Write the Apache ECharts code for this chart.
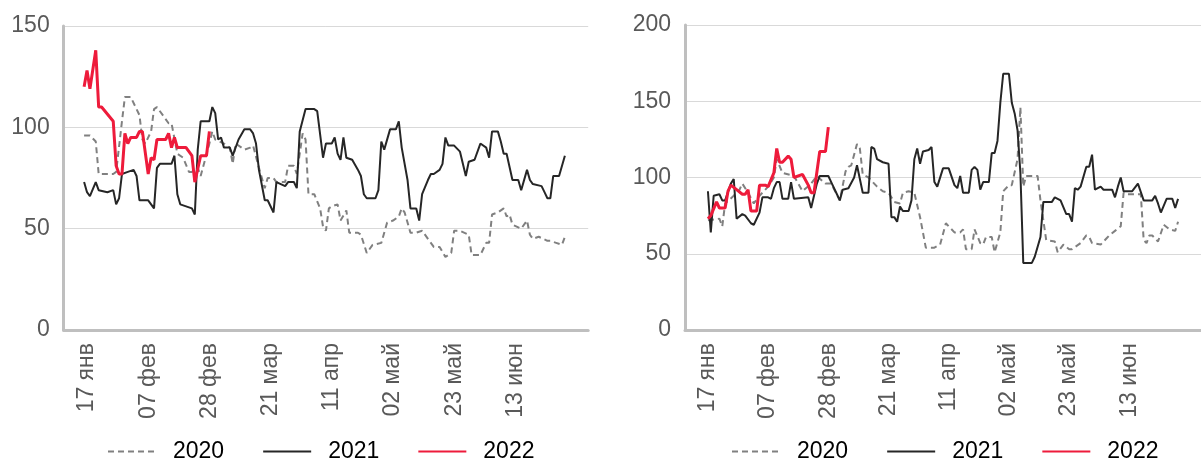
<!DOCTYPE html>
<html><head><meta charset="utf-8">
<script src="https://cdn.jsdelivr.net/npm/echarts@6/dist/echarts.min.js"></script>
<style>html,body{margin:0;padding:0;background:#fff}#c{width:1201px;height:464px}</style>
</head><body><div id="c"></div>
<script>
// Daily categories 09 Jan .. 08 Jul; data points are [dayIndex, value] (index 0 = 09 Jan)
const monthNames = ['янв','фев','мар','апр','май','июн','июл','авг'];
const dayCount = 181;
const tickLabels = ['17 янв','07 фев','28 фев','21 мар','11 апр','02 май','23 май','13 июн'];
const seriesNames = ['2020','2021','2022'];

const left2020 = [[7,96],[9,96],[11,93],[12,77],[13,77],[17,77],[18,78],[20,103],[21,115],[23,115],[25,109],[26,106],[27,94],[28,92],[30,98],[31,109],[32,110],[34,106],[36,102],[37,102],[39,87],[41,85],[43,78],[44,78],[46,80],[47,76],[50,92],[51,98],[52,94],[55,92],[57,90],[58,82],[59,92],[62,89],[64,90],[65,91],[67,80],[69,70],[70,75],[72,75],[73,73],[76,73],[77,81],[79,81],[80,77],[82,97],[83,94],[84,67],[86,67],[88,60],[89,51],[90,49],[91,60],[92,61],[94,62],[95,54],[97,59],[98,48],[101,48],[102,47],[104,38],[106,42],[109,43],[111,53],[113,54],[115,56],[116,60],[117,58],[119,48],[121,48],[123,49],[126,43],[127,41],[129,41],[131,36],[133,38],[134,49],[136,49],[139,47],[140,37],[143,37],[145,43],[146,43],[147,57],[149,58],[151,60],[152,56],[153,57],[154,52],[157,50],[159,54],[160,47],[161,45],[163,46],[166,44],[167,44],[169,43],[171,42],[172,46]];
const left2021 = [[7,73],[8,68],[9,66],[11,73],[12,69],[15,68],[17,69],[18,62],[19,65],[20,77],[22,78],[24,79],[25,76],[26,64],[29,64],[31,60],[32,80],[33,82],[37,82],[38,86],[39,67],[40,62],[44,60],[45,57],[46,89],[47,103],[50,103],[51,110],[52,107],[53,94],[54,95],[55,90],[57,90],[58,86],[60,94],[62,99],[64,99],[65,97],[66,92],[67,79],[69,64],[70,64],[72,58],[73,73],[76,71],[77,73],[79,73],[80,70],[81,98],[83,109],[86,109],[87,108],[89,85],[90,92],[92,92],[93,95],[94,87],[95,84],[96,95],[97,85],[99,84],[101,79],[102,76],[103,67],[104,65],[107,65],[108,69],[109,93],[110,89],[112,99],[114,99],[115,103],[116,90],[118,74],[119,60],[121,60],[122,54],[123,67],[125,74],[126,77],[127,77],[129,79],[130,82],[131,95],[132,91],[134,91],[136,88],[138,76],[139,83],[141,84],[143,92],[145,90],[146,85],[147,98],[149,98],[150,93],[151,87],[152,87],[154,74],[156,74],[157,69],[159,79],[160,74],[161,72],[164,71],[165,68],[166,65],[167,65],[168,76],[170,76],[172,86]];
const left2022 = [[7,120],[8,128],[9,119],[11,138],[12,110],[13,110],[17,103],[18,81],[19,77],[20,77],[21,97],[22,92],[23,95],[25,95],[26,98],[27,98],[29,77],[30,85],[31,84],[32,94],[35,94],[36,97],[37,90],[38,95],[39,90],[42,90],[44,86],[45,73],[47,86],[49,86],[50,98]];

const right2020 = [[8,72],[12,73],[13,68],[14,83],[17,88],[19,92],[20,96],[22,90],[24,83],[26,88],[29,94],[31,100],[32,112],[34,103],[38,101],[41,91],[44,96],[46,101],[49,96],[51,96],[54,85],[56,104],[57,107],[58,108],[60,122],[61,119],[62,102],[64,100],[67,94],[69,91],[71,90],[73,84],[75,83],[76,90],[78,91],[80,90],[82,74],[84,54],[87,54],[89,56],[91,70],[92,68],[94,64],[96,64],[97,66],[98,53],[100,53],[101,66],[103,57],[104,56],[105,61],[107,61],[108,51],[110,64],[111,91],[113,95],[114,95],[116,112],[117,146],[118,94],[119,101],[123,101],[124,85],[126,59],[129,58],[130,51],[132,56],[134,53],[135,53],[138,57],[140,62],[141,61],[142,57],[145,56],[147,60],[148,62],[150,65],[152,68],[153,90],[154,89],[159,89],[160,59],[161,57],[162,62],[163,62],[165,58],[167,69],[169,66],[171,65],[172,71]];
const right2021 = [[8,91],[9,64],[10,88],[12,89],[13,85],[14,85],[16,96],[17,99],[18,73],[20,76],[21,75],[23,70],[24,69],[26,77],[27,87],[29,87],[30,86],[31,93],[32,97],[33,97],[34,86],[36,86],[37,97],[38,86],[43,87],[44,80],[46,96],[47,101],[50,101],[51,97],[53,89],[54,85],[55,92],[57,93],[59,100],[60,108],[62,90],[64,90],[65,120],[66,119],[67,112],[69,110],[71,109],[72,74],[73,74],[74,71],[75,81],[76,78],[78,78],[79,85],[80,112],[81,119],[82,109],[83,117],[85,118],[86,120],[87,97],[88,94],[90,106],[92,106],[94,95],[95,93],[96,101],[97,90],[99,90],[100,105],[101,107],[102,105],[103,92],[104,97],[106,97],[107,116],[108,116],[109,124],[110,149],[111,168],[113,168],[114,149],[115,142],[116,131],[117,103],[118,44],[121,44],[122,48],[124,61],[125,84],[128,84],[129,87],[131,85],[133,76],[134,76],[135,71],[136,93],[137,92],[138,94],[140,107],[141,107],[142,115],[143,92],[145,94],[146,92],[149,92],[150,87],[151,94],[152,100],[153,91],[156,91],[158,96],[160,85],[163,85],[164,88],[165,83],[166,77],[168,86],[170,86],[171,80],[172,86]];
const right2022 = [[8,73],[9,75],[11,84],[12,80],[14,80],[15,91],[16,95],[18,92],[20,89],[21,89],[22,92],[23,78],[25,78],[26,95],[28,95],[29,94],[31,103],[32,119],[33,110],[34,110],[36,114],[37,112],[38,100],[41,102],[43,95],[44,90],[45,90],[47,117],[49,117],[50,133]];

const categories = [];
for (let i = 0; i < dayCount; i++) {
  const d = new Date(2021, 0, 9 + i);
  categories.push(String(d.getDate()).padStart(2, '0') + ' ' + monthNames[d.getMonth()]);
}

const FONT = "'Liberation Sans', Arial, sans-serif";
const labelColor = '#595959';
const styles = {
  '2020': {color: '#808080', width: 2, type: [6, 4]},
  '2021': {color: '#262626', width: 2, type: 'solid'},
  '2022': {color: '#ee1b3b', width: 3, type: 'solid'}
};

function xAxis(gi) {
  return {
    type: 'category', gridIndex: gi, data: categories, boundaryGap: false,
    axisLine: {lineStyle: {color: '#bfbfbf', width: 3}},
    axisTick: {show: false},
    splitLine: {show: false},
    axisLabel: {
      rotate: 90, margin: 13, color: labelColor, fontSize: 23, fontFamily: FONT,
      interval: (idx, val) => tickLabels.includes(val)
    }
  };
}
function yAxis(gi, max) {
  return {
    type: 'value', gridIndex: gi, min: 0, max: max, interval: 50,
    axisLine: {show: true, lineStyle: {color: '#bfbfbf', width: 3}},
    axisTick: {show: false},
    splitLine: {lineStyle: {color: '#d9d9d9', width: 1}},
    axisLabel: {margin: 14, color: labelColor, fontSize: 23, fontFamily: FONT}
  };
}
function mkSeries(name, data, gi) {
  const s = styles[name];
  return {
    name: name, type: 'line', xAxisIndex: gi, yAxisIndex: gi, data: data,
    symbol: 'none', showSymbol: false, animation: false,
    lineStyle: {color: s.color, width: s.width, type: s.type},
    itemStyle: {color: s.color}
  };
}
function legend(left) {
  return {
    left: left, top: 440, padding: 0, data: seriesNames, itemWidth: 48, itemHeight: 3, itemGap: 38,
    itemStyle: {opacity: 0},
    textStyle: {fontSize: 23, fontFamily: FONT, color: '#000', padding: [0, 0, 0, 12]}
  };
}

const chart = echarts.init(document.getElementById('c'), null, {renderer: 'canvas'});
chart.setOption({
  animation: false,
  grid: [
    {left: 63.7, top: 26, width: 524.5, height: 304},
    {left: 685, top: 25, width: 527.4, height: 305}
  ],
  xAxis: [xAxis(0), xAxis(1)],
  yAxis: [yAxis(0, 150), yAxis(1, 200)],
  legend: [legend(107), legend(731)],
  series: [
    mkSeries('2020', left2020, 0), mkSeries('2021', left2021, 0), mkSeries('2022', left2022, 0),
    mkSeries('2020', right2020, 1), mkSeries('2021', right2021, 1), mkSeries('2022', right2022, 1)
  ]
});
</script></body></html>
